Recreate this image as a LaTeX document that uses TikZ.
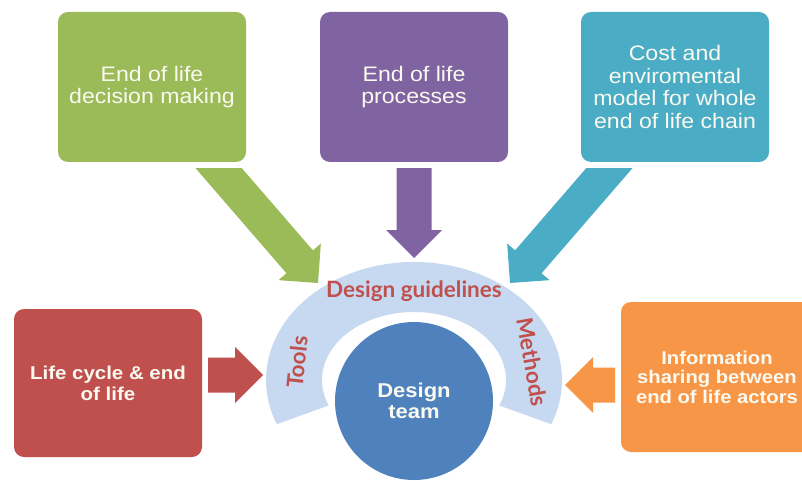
\documentclass[tikz,border=0pt]{standalone}
\usepackage{fontspec}
\setmainfont{Liberation Sans}
\newfontfamily\boxfont[FakeStretch=1.1]{Liberation Sans}
\newfontfamily\bandfont{Lato}
\usetikzlibrary{calc}

\definecolor{eolgreen}{HTML}{9BBB59}
\definecolor{eolpurple}{HTML}{8064A2}
\definecolor{eolaqua}{HTML}{4BACC6}
\definecolor{eolred}{HTML}{C0504D}
\definecolor{eolorange}{HTML}{F79646}
\definecolor{eolblue}{HTML}{4F81BD}
\definecolor{eolband}{HTML}{C6D9F1}
\definecolor{eoltext}{HTML}{FAFAF0}

% block arrow: colour, tail, tip
\newcommand{\blockarrow}[3]{%
  \coordinate (hb) at ($(#3)!28pt!(#2)$);
  \fill[#1] ($(#2)!17.5pt!90:(#3)$) -- ($(hb)!17.5pt!-90:(#2)$)
    -- ($(hb)!28pt!-90:(#2)$) -- (#3) -- ($(hb)!28pt!90:(#2)$)
    -- ($(hb)!17.5pt!90:(#2)$) -- ($(#2)!17.5pt!-90:(#3)$) -- cycle;}

\begin{document}
\begin{tikzpicture}[x=1pt,y=1pt,
  topbox/.style={rectangle,rounded corners=10pt,minimum width=188pt,minimum height=150pt,
    text=eoltext,align=center,font=\boxfont\fontsize{21}{22.5}\selectfont},
  sidebox/.style={topbox,minimum height=148pt,font=\boxfont\bfseries\fontsize{18.6}{21}\selectfont},
  bandlabel/.style={text=eolred,inner sep=0pt,font=\bandfont\bfseries\fontsize{22.5}{22.5}\selectfont}]

  \useasboundingbox (0,0) rectangle (802,480);

  \node[topbox,fill=eolgreen] (decision) at (152,393) {End of life\\decision making};
  \node[topbox,fill=eolpurple] (processes) at (414,393) {End of life\\processes};
  \node[topbox,fill=eolaqua] (model) at (675,393) {Cost and\\enviromental\\model for whole\\end of life chain};
  \node[sidebox,fill=eolred] (lifecycle) at (108,97) {Life cycle \& end\\of life};
  \node[sidebox,minimum width=192pt,minimum height=150pt,fill=eolorange,
    font=\boxfont\bfseries\fontsize{18.4}{19.5}\selectfont] (sharing) at (717,103)
    {Information\\sharing between\\end of life actors};

  % guideline band and design team
  \coordinate (bandc) at (414,100);
  \fill[eolband] ($(bandc)+(-22:148 and 118)$)
    arc[start angle=-22,end angle=202,x radius=148,y radius=118]
    -- ($(bandc)+(202:92 and 68)$)
    arc[start angle=202,end angle=-22,x radius=92,y radius=68] -- cycle;
  \node[circle,fill=eolblue,minimum size=158pt,text=eoltext,align=center,
    font=\boxfont\bfseries\fontsize{20}{20.5}\selectfont] (team) at (414,79) {Design\\team};

  \node[bandlabel] (guide) at (414,189) {Design guidelines};
  \node[bandlabel,rotate=84] (tools) at (297,118) {Tools};
  \node[bandlabel,rotate=-80] (methods) at (532,118) {Methods};

  % arrows into the band
  \coordinate (gtail) at (198.9,334.7);
  \coordinate (gtip) at (318,197);
  \coordinate (ptail) at (414,330);
  \coordinate (ptip) at (414,222);
  \coordinate (atail) at (629.1,334.7);
  \coordinate (atip) at (510,197);
  \coordinate (rtail) at (208,105);
  \coordinate (rtip) at (263,105);
  \coordinate (otail) at (615,95);
  \coordinate (otip) at (565,95);
  \begin{scope}
    \clip (0,0) rectangle (802,312);
    \blockarrow{eolgreen}{gtail}{gtip}
    \blockarrow{eolpurple}{ptail}{ptip}
    \blockarrow{eolaqua}{atail}{atip}
  \end{scope}
  \blockarrow{eolred}{rtail}{rtip}
  \blockarrow{eolorange}{otail}{otip}
\end{tikzpicture}
\end{document}
